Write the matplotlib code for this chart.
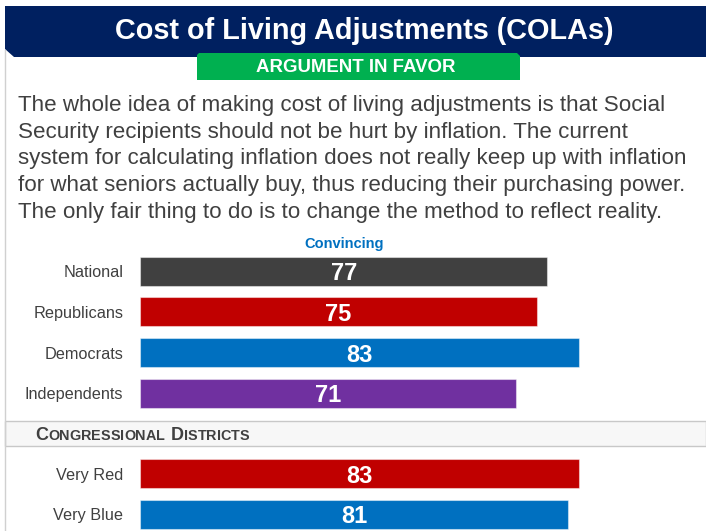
import matplotlib
matplotlib.use("Agg")
import matplotlib.pyplot as plt
from matplotlib.patches import Polygon, Rectangle

plt.rcParams['font.family'] = ['Liberation Sans', 'DejaVu Sans']

# ---- data ----
title = "Cost of Living Adjustments (COLAs)"
subtitle = "ARGUMENT IN FAVOR"
paragraph = [
    "The whole idea of making cost of living adjustments is that Social",
    "Security recipients should not be hurt by inflation. The current",
    "system for calculating inflation does not really keep up with inflation",
    "for what seniors actually buy, thus reducing their purchasing power.",
    "The only fair thing to do is to change the method to reflect reality.",
]
column_header = "Convincing"
groups_top = ["National", "Republicans", "Democrats", "Independents"]
values_top = [77, 75, 83, 71]
colors_top = ["#404040", "#c00000", "#0070c0", "#7030a0"]
section_title = "Congressional Districts"
groups_bottom = ["Very Red", "Very Blue"]
values_bottom = [83, 81]
colors_bottom = ["#c00000", "#0070c0"]

W, H = 706, 531
fig = plt.figure(figsize=(W / 100, H / 100), dpi=100)
fig.patch.set_facecolor("white")

def fx(x):
    return x / W

def fy(y):
    return 1 - y / H

# panel left border
fig.add_artist(plt.Line2D([fx(5), fx(5)], [fy(50), fy(531)], color="#d0d0d0", lw=1.0))

# title band
band = Polygon([(fx(5), fy(6)), (fx(706), fy(6)), (fx(706), fy(57)),
                (fx(14), fy(57)), (fx(5), fy(49))], closed=True,
               facecolor="#002060", edgecolor="none", transform=fig.transFigure)
fig.add_artist(band)
fig.text(fx(364), fy(31), title, color="white", fontsize=20.8, fontweight="bold",
         ha="center", va="center")

# green subtitle box
gbox = Polygon([(fx(199), fy(53)), (fx(517), fy(53)), (fx(520), fy(56)),
                (fx(520), fy(80)), (fx(197), fy(80)), (fx(197), fy(55))], closed=True,
               facecolor="#00b050", edgecolor="none", transform=fig.transFigure)
fig.add_artist(gbox)
fig.text(fx(356), fy(67.5), subtitle, color="white", fontsize=13.4, fontweight="bold",
         ha="center", va="center")

# paragraph
for i, line in enumerate(paragraph):
    fig.text(fx(18), fy(111 + i * 26.7), line, color="#404040", fontsize=16.1,
             ha="left", va="baseline")

# column header
fig.text(fx(344), fy(244), column_header, color="#0070c0", fontsize=10.5,
         fontweight="bold", ha="center", va="center")

# section band
fig.add_artist(Rectangle((fx(5), fy(446)), fx(706) - fx(5), fy(421) - fy(446),
                         facecolor="#f7f7f7", edgecolor="#c8c8c8", lw=1.0,
                         transform=fig.transFigure))

# small caps section title
fig.canvas.draw()
renderer = fig.canvas.get_renderer()
xpos = 35
words = section_title.upper().split(" ")
for wi, word in enumerate(words):
    for ci, ch in enumerate(word):
        size = 13 if ci == 0 else 10.4
        t = fig.text(fx(xpos), fy(439.5), ch, color="#404040", fontsize=size,
                     fontweight="bold", ha="left", va="baseline")
        bb = t.get_window_extent(renderer)
        xpos += bb.width
    if wi < len(words) - 1:
        xpos += 6

# bar axes
x_left_px, scale = 140, (579 - 140) / 83
xmax = (W - x_left_px) / scale

def make_axes(top_px, n, pitch):
    bottom_px = top_px + n * pitch
    ax = fig.add_axes([fx(x_left_px), fy(bottom_px), fx(W) - fx(x_left_px),
                       (bottom_px - top_px) / H])
    ax.set_xlim(0, xmax)
    ax.set_ylim(n - 0.5, -0.5)
    for s in ax.spines.values():
        s.set_visible(False)
    ax.set_xticks([])
    ax.patch.set_alpha(0)
    return ax

def draw(ax, cats, vals, cols):
    bars = ax.barh(range(len(cats)), vals, height=0.713, color=cols,
                   edgecolor=(1, 1, 1, 0.45), linewidth=0.8)
    ax.set_yticks(range(len(cats)))
    ax.set_yticklabels(cats, fontsize=11.7, color="#404040")
    ax.tick_params(axis="y", length=0, pad=12)
    labels = ax.bar_label(bars, labels=[str(v) for v in vals], label_type="center",
                          color="white", fontsize=17, fontweight="bold")
    for lab in labels:
        lab.set_va("center_baseline")

pitch = 40.67
ax1 = make_axes(271.3 - pitch / 2, len(groups_top), pitch)
draw(ax1, groups_top, values_top, colors_top)
ax2 = make_axes(473.8 - pitch / 2, len(groups_bottom), pitch)
draw(ax2, groups_bottom, values_bottom, colors_bottom)

fig.savefig("out.png", dpi=100, facecolor="white")
